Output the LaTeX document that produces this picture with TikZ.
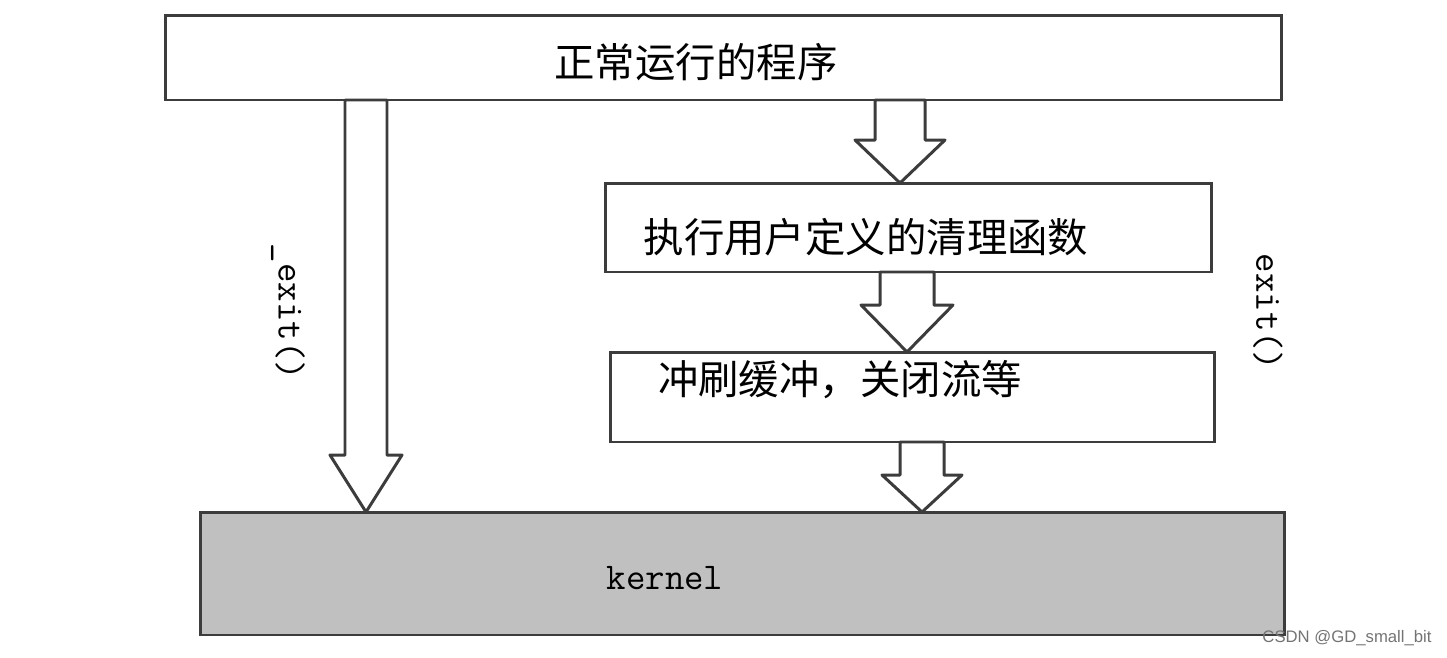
\documentclass[tikz,border=0pt]{standalone}
\usepackage{fontspec}
\newfontfamily\cjk{Noto Sans CJK SC}
\newfontfamily\wmfont{Liberation Sans}
\usepackage{xcolor}
\usepackage{tikz}
\usetikzlibrary{calc,positioning}
\definecolor{edgegray}{RGB}{60,60,60}
\definecolor{kernelgray}{RGB}{192,192,192}

\begin{document}
\begin{tikzpicture}[x=0.02cm, y=-0.02cm,
  box/.style={draw=edgegray, line width=1.7pt, fill=white, outer sep=0pt,
    inner sep=0pt},
  cjklbl/.style={font=\cjk\fontsize{23}{27}\selectfont},
  bigarrow/.style={draw=edgegray, line width=1.7pt, fill=white, line join=round},
  call/.style={font=\ttfamily\fontsize{21.5}{24}\selectfont, rotate=-90},
]
  \useasboundingbox (0,0) rectangle (1447,657);

  \node[box, minimum width=22.34cm, minimum height=1.7cm,
    label={[cjklbl, xshift=-0.55cm, yshift=-0.09cm]center:正常运行的程序}]
    (run) at (723.5,57.5) {};
  \node[box, minimum width=12.14cm, minimum height=1.78cm,
    label={[cjklbl, xshift=-0.85cm, yshift=-0.2cm]center:执行用户定义的清理函数}]
    (clean) at (908.5,227.5) {};
  \node[box, minimum width=12.1cm, minimum height=1.8cm,
    label={[cjklbl, xshift=-1.45cm, yshift=0.34cm]center:冲刷缓冲，关闭流等}]
    (flush) at (912.5,397) {};
  \node[box, fill=kernelgray, minimum width=21.7cm, minimum height=2.46cm,
    label={[font=\ttfamily\fontsize{21.5}{24}\selectfont, xshift=-1.55cm, yshift=-0.09cm]center:kernel}]
    (kernel) at (742.5,573.5) {};

  \coordinate (xl) at (366,0);
  \coordinate (xa) at (900,0);
  \coordinate (xb) at (907,0);
  \coordinate (xc) at (922,0);

  \foreach \a/\b/\c/\s/\h/\l in {run/kernel/xl/21/36/57, run/clean/xa/25/45/43,
      clean/flush/xb/27/46/47, flush/kernel/xc/22/40/37}
    \draw[bigarrow] ($(\a.south -| \c)+(-\s,0)$) -- ($(\a.south -| \c)+(\s,0)$)
      -- ($(\b.north -| \c)+(\s,-\l)$) -- ($(\b.north -| \c)+(\h,-\l)$)
      -- (\b.north -| \c) -- ($(\b.north -| \c)+(-\h,-\l)$)
      -- ($(\b.north -| \c)+(-\s,-\l)$) -- cycle;

  \node[call] (uexit) at (288,312) {\_exit()};
  \node[call] (exit) at (1268,312) {exit()};

  \node[font=\wmfont\fontsize{9.5}{12}\selectfont, text=black!55] (mark)
    at (1347,638) {CSDN @GD\_small\_bit};
\end{tikzpicture}
\end{document}
